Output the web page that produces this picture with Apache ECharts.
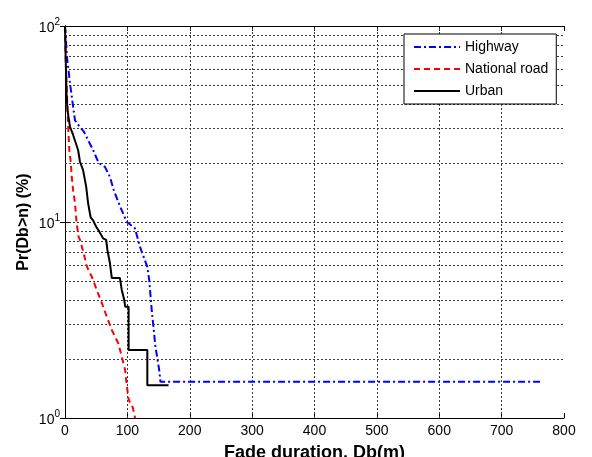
<!DOCTYPE html>
<html>
<head>
<meta charset="utf-8">
<script src="https://cdn.jsdelivr.net/npm/echarts@6/dist/echarts.min.js"></script>
<style>
html,body{margin:0;padding:0;background:#fff;}
#c{width:592px;height:457px;}
</style>
</head>
<body>
<div id="c"></div>
<script>
// ---- data ----
const seriesNames = ['Highway', 'National road', 'Urban'];

const highwayX = [0, 1, 3, 5, 8, 12, 16, 24, 30, 37, 45, 54, 64, 72, 78, 86, 99, 112, 120, 132, 135, 139, 145, 151, 153, 765];
const highwayY = [100, 92, 70, 62, 51, 41, 33, 30.5, 29, 26.2, 23.3, 20, 19.1, 17, 14.6, 12.5, 10, 9.3, 7.5, 5.9, 5.06, 3.56, 2.31, 1.76, 1.53, 1.53];

const nationalX = [0, 1.2, 2.2, 3.7, 5.3, 6.9, 9.2, 10.8, 12.9, 16, 18.5, 21.4, 24, 29.4, 34.5, 37.4, 42.9, 50.9, 59, 67, 75, 85.6, 91, 96.4, 99, 101.7, 104.4, 108.8, 112.4];
const nationalY = [100, 67, 53, 40.5, 29.5, 23.3, 20.3, 17, 14.6, 12.5, 10, 8.48, 8.1, 7.03, 6.03, 5.69, 5.26, 4.5, 3.86, 3.29, 2.81, 2.4, 2.05, 1.76, 1.47, 1.26, 1.19, 1.13, 1.0];

const urbanX = [0, 1, 2.5, 4, 6.5, 8, 13, 21, 24, 29, 34, 37, 41, 45, 50, 55, 61, 66, 68, 72, 75, 88, 91, 95, 96.5, 102, 102, 132, 132, 166];
const urbanY = [100, 70, 45, 37, 33, 30.6, 27.8, 23.3, 20.3, 18.4, 15.1, 12.5, 10.6, 10.2, 9.46, 8.93, 8.26, 8.1, 7.2, 6.18, 5.18, 5.18, 4.5, 4.0, 3.7, 3.7, 2.22, 2.22, 1.47, 1.47];

const xTicks = [0, 100, 200, 300, 400, 500, 600, 700, 800];
const yDecades = [1, 10, 100];
const yMinorGrid = [2, 3, 4, 5, 6, 7, 8, 9, 20, 30, 40, 50, 60, 70, 80, 90];

// ---- chart ----
const zip = (xs, ys) => xs.map((x, i) => [x, ys[i]]);
const FONT = '"Liberation Sans", Arial, sans-serif';
const gridLine = { color: '#3a3a3a', width: 1, type: [2, 2] };

const chart = echarts.init(document.getElementById('c'), null, { renderer: 'canvas' });

const minorLines = yMinorGrid.map(v => ({ yAxis: v }))
  .concat(xTicks.slice(1, -1).map(v => ({ xAxis: v })));

chart.setOption({
  animation: false,
  backgroundColor: '#fff',
  textStyle: { fontFamily: FONT, color: '#000' },
  grid: { left: 65, right: 28, top: 26, bottom: 39, containLabel: false, outerBoundsMode: 'none' },
  legend: {
    data: seriesNames,
    orient: 'vertical',
    left: 404, top: 34,
    itemWidth: 46, itemHeight: 14, itemGap: 8,
    padding: [6, 8, 6, 9],
    backgroundColor: '#fff',
    borderColor: '#000', borderWidth: 1, borderRadius: 0,
    itemStyle: { color: 'rgba(0,0,0,0)', borderColor: 'rgba(0,0,0,0)', borderWidth: 0, opacity: 0 },
    textStyle: { fontFamily: FONT, fontSize: 14, color: '#000' }
  },
  xAxis: [{
    type: 'value', min: 0, max: 800, interval: 100,
    name: 'Fade duration, Db(m)', nameLocation: 'middle', nameGap: 26, nameMoveOverlap: false,
    nameTextStyle: { fontFamily: FONT, fontSize: 18, fontWeight: 'bold', color: '#000', verticalAlign: 'top' },
    axisLine: { show: true, lineStyle: { color: '#000', width: 1 } },
    axisTick: { show: true, inside: true, length: 5, lineStyle: { color: '#000' } },
    axisLabel: { show: true, fontSize: 14, color: '#000', margin: 6, fontFamily: FONT },
    splitLine: { show: false }
  }, {
    type: 'value', min: 0, max: 800, interval: 100, position: 'top',
    axisLine: { show: true, lineStyle: { color: '#000', width: 1 } },
    axisTick: { show: true, inside: true, length: 5, lineStyle: { color: '#000' } },
    axisLabel: { show: false }, splitLine: { show: false }
  }],
  yAxis: [{
    type: 'log', logBase: 10, min: 1, max: 100,
    name: 'Pr(Db>n) (%)', nameLocation: 'middle', nameGap: 33, nameMoveOverlap: false,
    nameTextStyle: { fontFamily: FONT, fontSize: 16, fontWeight: 'bold', color: '#000' },
    axisLine: { show: true, lineStyle: { color: '#000', width: 1 } },
    axisTick: { show: true, inside: true, length: 5, lineStyle: { color: '#000' } },
    axisLabel: {
      show: true, margin: 5, color: '#000', fontFamily: FONT,
      formatter: v => '{b|10}{s|' + Math.round(Math.log10(v)) + '}',
      rich: {
        b: { fontSize: 14, fontFamily: FONT, color: '#000', lineHeight: 18, verticalAlign: 'bottom' },
        s: { fontSize: 10, fontFamily: FONT, color: '#000', lineHeight: 18, verticalAlign: 'top' }
      }
    },
    splitLine: { show: true, lineStyle: gridLine }
  }, {
    type: 'log', logBase: 10, min: 1, max: 100, position: 'right',
    axisLine: { show: true, lineStyle: { color: '#000', width: 1 } },
    axisTick: { show: true, inside: true, length: 5, lineStyle: { color: '#000' } },
    axisLabel: { show: false }, splitLine: { show: false }
  }],
  series: [{
    name: 'Highway', type: 'line', data: zip(highwayX, highwayY),
    showSymbol: false, symbol: 'none', z: 4,
    lineStyle: { color: '#0000ff', width: 2, type: [7, 3, 2, 3] },
    itemStyle: { color: '#0000ff' },
    markLine: {
      silent: true, symbol: 'none', animation: false, z: 1,
      label: { show: false },
      lineStyle: gridLine,
      emphasis: { disabled: true },
      data: minorLines
    }
  }, {
    name: 'National road', type: 'line', data: zip(nationalX, nationalY),
    showSymbol: false, symbol: 'none', z: 3,
    lineStyle: { color: '#ff0000', width: 2, type: [6, 4] },
    itemStyle: { color: '#ff0000' }
  }, {
    name: 'Urban', type: 'line', data: zip(urbanX, urbanY),
    showSymbol: false, symbol: 'none', z: 5,
    lineStyle: { color: '#000000', width: 2, type: 'solid' },
    itemStyle: { color: '#000000' }
  }]
});
</script>
</body>
</html>
